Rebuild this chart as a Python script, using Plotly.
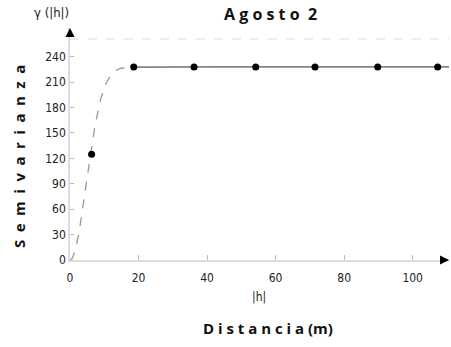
import numpy as np
import plotly.graph_objects as go

# Experimental semivariogram (lag distance in m, semivariance)
lag_h = [6.3, 18.6, 36.2, 54.2, 71.5, 89.8, 107.3]
gamma_exp = [125, 228, 228, 228, 228, 228, 228]

# Fitted gaussian model parameters
nugget = 0.0
sill = 228.0
model_range = 11.6
dashed_end = 18.5
total_sill_line = 261

x_ticks = [0, 20, 40, 60, 80, 100]
y_ticks = [0, 30, 60, 90, 120, 150, 180, 210, 240]


def gaussian_model(h):
    return nugget + (sill - nugget) * (1 - np.exp(-3 * (h / model_range) ** 2))


h_rise = np.linspace(0, dashed_end, 80)
h_flat = np.linspace(dashed_end, 111, 40)

W, H = 451, 347
ML, MR, MT, MB = 70, 2, 28, 87
PW, PH = W - ML - MR, H - MT - MB


def px(x):
    return (x - ML) / PW


def py(y):
    return (H - MB - y) / PH


def spaced(word, sep="\u2002"):
    return sep.join(word)


tick_font = dict(family="Liberation Sans Narrow, DejaVu Sans Condensed, sans-serif", size=12, color="#222")
title_font = dict(family="Open Sans, DejaVu Sans, sans-serif", size=16, color="#111")
xlabel_font = dict(family="Open Sans, DejaVu Sans, sans-serif", size=15, color="#111")
ylabel_font = dict(family="Open Sans, DejaVu Sans, sans-serif", size=15, color="#111")

fig = go.Figure()
fig.add_trace(go.Scatter(x=h_rise, y=gaussian_model(h_rise), mode="lines",
                         line=dict(color="#999", width=1.3, dash="dash"), hoverinfo="skip"))
fig.add_trace(go.Scatter(x=h_flat, y=gaussian_model(h_flat), mode="lines",
                         line=dict(color="#555", width=1.3), hoverinfo="skip"))
fig.add_trace(go.Scatter(x=[0, 111], y=[total_sill_line, total_sill_line], mode="lines",
                         line=dict(color="#ddd", width=1, dash="dash"), hoverinfo="skip"))
fig.add_trace(go.Scatter(x=lag_h, y=gamma_exp, mode="markers",
                         marker=dict(color="#000", size=7, symbol="circle")))

fig.update_layout(
    width=W, height=H,
    margin=dict(l=ML, r=MR, t=MT, b=MB),
    paper_bgcolor="white", plot_bgcolor="white",
    showlegend=False,
    xaxis=dict(range=[0, 110.6], tickvals=x_ticks, ticks="inside", ticklen=5,
               tickcolor="#bbb", showgrid=False, zeroline=False, showline=True,
               linecolor="#ddd", linewidth=1.5, tickfont=tick_font, fixedrange=True,
               ticklabelstandoff=6),
    yaxis=dict(range=[0, 274], tickvals=y_ticks, ticks="inside", ticklen=4,
               tickcolor="#bbb", showgrid=False, zeroline=False, showline=True,
               linecolor="#ddd", linewidth=1.5, tickfont=tick_font, fixedrange=True),
)

# Axis arrowheads
fig.add_annotation(x=0, y=274, ax=0, ay=262, xref="x", yref="y", axref="x", ayref="y",
                   text="", showarrow=True, arrowhead=2, arrowsize=1.2, arrowwidth=1.5,
                   arrowcolor="#000")
fig.add_annotation(x=110.6, y=0, ax=107.6, ay=0, xref="x", yref="y", axref="x", ayref="y",
                   text="", showarrow=True, arrowhead=2, arrowsize=1.2, arrowwidth=1.5,
                   arrowcolor="#000")

# Text labels
fig.add_annotation(x=px(51), y=py(13), xref="paper", yref="paper", text="γ (|h|)",
                   showarrow=False, font=dict(tick_font, size=13),
                   xanchor="center", yanchor="middle")
fig.add_annotation(x=px(270), y=py(14), xref="paper", yref="paper",
                   text="<b>A g o s t o  2</b>", showarrow=False, font=title_font,
                   xanchor="center", yanchor="middle")
fig.add_annotation(x=px(259), y=py(297), xref="paper", yref="paper", text="|h|",
                   showarrow=False, font=tick_font, xanchor="center", yanchor="middle")
fig.add_annotation(x=px(268), y=py(328), xref="paper", yref="paper",
                   text="<b>D i s t a n c i a (m)</b>", showarrow=False, font=xlabel_font,
                   xanchor="center", yanchor="middle")
fig.add_annotation(x=px(19), y=py(157), xref="paper", yref="paper",
                   text="<b>" + spaced("Semivarianza") + "</b>", showarrow=False,
                   textangle=-90, font=ylabel_font, xanchor="center", yanchor="middle")

fig.write_html("out.html")
